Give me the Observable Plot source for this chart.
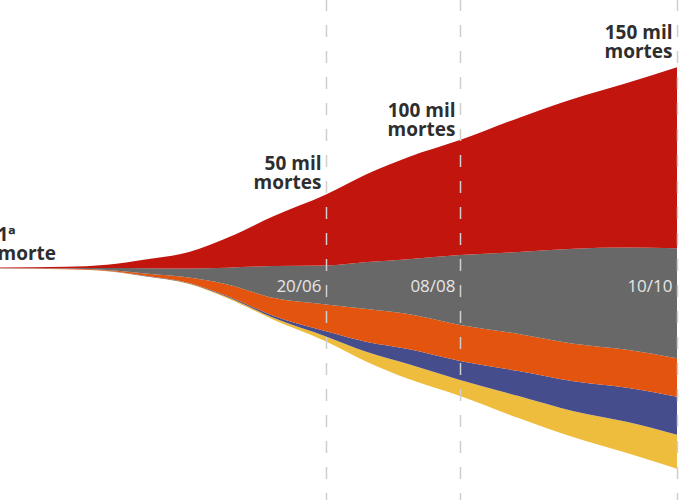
<!DOCTYPE html>
<html><head><meta charset="utf-8">
<script src="https://cdn.jsdelivr.net/npm/d3@7"></script>
<script src="https://cdn.jsdelivr.net/npm/@observablehq/plot@0.6"></script>
<style>
html,body{margin:0;padding:0;background:#fff;}
#chart{width:682px;height:500px;overflow:hidden;}
</style>
</head><body><div id="chart"></div>
<script>
// Dates of samples
const dates = ["2020-02-22","2020-03-17","2020-04-01","2020-04-15","2020-05-01","2020-05-15","2020-06-01","2020-06-20","2020-07-05","2020-07-20","2020-08-08","2020-08-25","2020-09-10","2020-09-25","2020-10-10"];
// Regions, bottom to top
const regions = ["Sul","Centro-Oeste","Norte","Nordeste","Sudeste"];
const colors = ["#efbd3e","#464d8c","#e3540e","#686868","#c1150e"];
// Cumulative deaths, thousands
const sudeste  = [0.3, 0.5, 1.2, 3.2, 6.2, 11.2, 18.75, 26.6, 33.0, 38.25, 43.1, 50.25, 56.25, 61.5, 67.9];
const nordeste = [0.1, 0.25, 0.7, 2.0, 3.4, 6.3, 12.0, 14.6, 17.6, 20.6, 26.25, 30.75, 35.6, 38.25, 41.25];
const norte    = [0, 0.1, 0.35, 0.9, 2.0, 4.3, 6.75, 10.1, 12.4, 13.1, 13.5, 13.9, 14.1, 14.3, 14.5];
const centro   = [0, 0, 0.05, 0.1, 0.2, 0.4, 0.75, 1.9, 3.75, 5.6, 7.1, 9.4, 11.25, 12.75, 14.25];
const sul      = [0, 0, 0.05, 0.1, 0.2, 0.4, 0.75, 1.9, 3.75, 5.6, 6.0, 8.25, 9.75, 11.6, 12.75];

// Milestones
const milestoneDates = ["2020-06-20","2020-08-08","2020-10-10"];
const milestoneLabels = ["50 mil\nmortes","100 mil\nmortes","150 mil\nmortes"];
const dateLabels = ["20/06","08/08","10/10"];
const firstLabel = "1ª\nmorte";

const parse = s => new Date(s + "T00:00:00Z");
const series = [sul, centro, norte, nordeste, sudeste];
const rows = [];
regions.forEach((r, k) => dates.forEach((d, i) => rows.push({date: parse(d), region: r, value: series[k][i]})));

const totals = dates.map((d, i) => series.reduce((s, a) => s + a[i], 0));
const c = d3.max(totals) / 2; // Plot's center offset puts the stacks' middle here
const totalAt = d => totals[dates.indexOf(d)];
const milestones = milestoneDates.map((d, i) => ({date: parse(d), label: milestoneLabels[i], dateLabel: dateLabels[i], top: c + totalAt(d) / 2, mid: c}));
const labelDy = [-6.5, -5, -10];

const font = "'Open Sans', 'DejaVu Sans', sans-serif";

const chart = Plot.plot({
  width: 682,
  height: 500,
  margin: 0,
  style: {background: "transparent", fontFamily: font, overflow: "visible"},
  x: {type: "utc", domain: [parse("2020-02-22"), parse("2020-06-20"), parse("2020-08-08"), parse("2020-10-10")], range: [0, 326, 460, 677], axis: null},
  y: {domain: [c - 87, c + 100.5], axis: null},
  color: {domain: regions, range: colors},
  marks: [
    Plot.areaY(rows, {x: "date", y: "value", z: "region", fill: "region", offset: "center", curve: "monotone-x"}),
    Plot.ruleX(milestones, {x: "date", stroke: "#cfcfcf", strokeWidth: 1.5, strokeDasharray: "12,14", strokeDashoffset: 1}),
    Plot.text(milestones, {x: "date", y: "mid", text: "dateLabel", textAnchor: "end", lineAnchor: "bottom", dx: -5, dy: 23, fill: "#e6e6e6", fontSize: 17, fontFamily: font}),
    ...milestones.map((m, i) => Plot.text([m], {x: "date", y: "top", text: "label", textAnchor: "end", lineAnchor: "bottom", dx: -5, dy: labelDy[i], fill: "#2e2e2e", fontSize: 19, fontWeight: 700, lineHeight: 0.96, fontFamily: font})),
    Plot.text([{date: parse(dates[0]), label: firstLabel, mid: c}], {x: "date", y: "mid", text: "label", textAnchor: "start", lineAnchor: "bottom", dx: -3, dy: -9, fill: "#2e2e2e", fontSize: 19, fontWeight: 700, lineHeight: 0.96, fontFamily: font})
  ]
});
document.getElementById("chart").appendChild(chart);
</script>
</body></html>
